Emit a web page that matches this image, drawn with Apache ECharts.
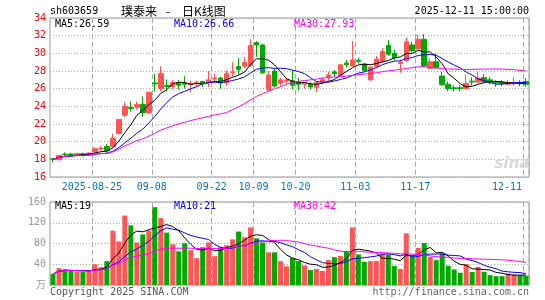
<!DOCTYPE html>
<html><head><meta charset="utf-8">
<script src="https://cdn.jsdelivr.net/npm/echarts/dist/echarts.min.js"></script>
<style>html,body{margin:0;padding:0;background:#fff}#c{width:545px;height:300px}</style>
</head><body><div id="c"></div>
<script>
const dates = ['2025-08-14','2025-08-15','2025-08-18','2025-08-19','2025-08-20','2025-08-21','2025-08-22','2025-08-25','2025-08-26','2025-08-27','2025-08-28','2025-08-29','2025-09-01','2025-09-02','2025-09-03','2025-09-04','2025-09-05','2025-09-08','2025-09-09','2025-09-10','2025-09-11','2025-09-12','2025-09-15','2025-09-16','2025-09-17','2025-09-18','2025-09-19','2025-09-22','2025-09-23','2025-09-24','2025-09-25','2025-09-26','2025-09-29','2025-09-30','2025-10-09','2025-10-10','2025-10-13','2025-10-14','2025-10-15','2025-10-16','2025-10-17','2025-10-20','2025-10-21','2025-10-22','2025-10-23','2025-10-24','2025-10-27','2025-10-28','2025-10-29','2025-10-30','2025-10-31','2025-11-03','2025-11-04','2025-11-05','2025-11-06','2025-11-07','2025-11-10','2025-11-11','2025-11-12','2025-11-13','2025-11-14','2025-11-17','2025-11-18','2025-11-19','2025-11-20','2025-11-21','2025-11-24','2025-11-25','2025-11-26','2025-11-27','2025-11-28','2025-12-01','2025-12-02','2025-12-03','2025-12-04','2025-12-05','2025-12-08','2025-12-09','2025-12-10','2025-12-11'];
const opens = [18.05,17.95,18.6,18.6,18.42,18.62,18.5,18.85,19.2,19.45,19.45,20.9,23.0,23.85,23.9,24.2,23.25,26.65,26.0,26.35,26.25,26.6,26.6,26.45,26.6,26.8,26.75,27.1,27.2,26.65,27.8,28.5,28.55,28.6,31.2,30.95,25.85,28.0,26.6,26.85,26.9,26.75,26.5,26.5,26.15,26.8,27.36,27.9,27.5,28.9,28.57,29.2,28.8,27.0,28.5,29.1,30.9,30.0,28.85,29.2,30.95,30.5,31.6,28.3,29.05,27.43,26.5,26.1,26.1,26.0,26.85,26.75,27.25,27.0,26.75,26.7,26.5,26.55,26.65,26.8];
const closes = [18.0,18.45,18.55,18.55,18.65,18.5,18.7,19.2,19.25,18.95,20.4,22.5,24.0,23.75,24.2,23.3,25.6,26.55,27.7,26.25,26.7,26.4,26.5,26.6,26.7,26.55,27.0,27.2,26.65,27.7,27.9,28.2,28.95,30.9,30.95,27.8,27.55,26.3,27.0,27.0,26.4,26.5,26.65,26.2,26.7,27.0,27.55,27.7,28.7,28.7,29.25,29.1,28.05,28.45,29.35,30.2,29.9,29.5,29.0,31.3,30.3,31.6,28.57,29.05,28.4,26.45,25.98,26.0,26.0,26.6,26.75,27.2,26.8,26.7,26.65,26.55,26.7,26.65,26.55,26.5];
const lows = [17.65,17.9,18.25,18.3,18.35,18.3,18.4,18.75,18.95,18.75,19.35,20.85,22.8,23.4,23.6,22.8,23.2,25.7,25.7,25.7,25.95,25.9,26.0,25.6,26.2,26.2,26.2,26.6,26.0,26.3,27.35,27.6,28.3,28.5,29.6,27.7,25.7,26.1,26.3,26.55,25.9,25.8,26.0,25.9,25.6,26.6,26.9,27.3,27.4,28.4,28.55,28.85,27.9,26.9,28.4,28.9,29.7,29.2,27.8,29.0,30.1,30.4,28.5,28.2,28.3,26.3,25.7,25.7,25.7,25.9,26.35,26.7,26.6,26.45,26.2,26.3,26.4,26.35,26.25,26.2];
const highs = [18.15,18.5,18.8,18.75,18.7,18.75,18.8,19.35,19.5,19.75,20.9,22.5,24.45,24.55,24.55,25.1,25.6,27.7,28.55,27.05,27.0,27.0,27.4,26.9,26.9,26.9,28.0,27.7,27.35,28.1,29.0,29.45,29.6,31.6,31.4,31.1,28.0,28.3,27.2,27.2,28.05,27.2,26.75,26.75,26.75,27.2,27.9,28.1,28.8,29.25,31.4,29.5,28.9,28.5,29.7,30.6,31.5,30.4,29.3,31.8,31.3,32.1,32.2,29.4,30.0,27.9,26.8,26.4,26.4,27.6,27.3,27.9,27.65,27.3,26.95,26.95,27.0,27.3,26.95,27.2];
const volumes = [21,32.5,30.6,28.7,24.9,24.9,28,40,34.5,46,104.6,84,134,115,82,97.6,105,150,129,101,78.5,65,80.4,67,51.7,72.7,82.3,55.5,72.7,76.6,88,103,92,111,90,82,63,63,46,36,52,46,37.6,29,31,27,48,53.6,56,65.7,111,59,44.7,46,46.6,60.6,59,37,31,99.5,55.5,71.5,81,54,48,60.6,37,30,23.6,40,25,35,25.5,19,17,17,22,20,19,18];
const labelDates = ['2025-08-25','2025-09-08','2025-09-22','2025-10-09','2025-10-20','2025-11-03','2025-11-17','2025-12-11'];
const labelTexts = ['2025-08-25','09-08','09-22','10-09','10-20','11-03','11-17','12-11'];
const priceLegend = ['MA5:26.59','MA10:26.66','MA30:27.93'];
const volLegend = ['MA5:19','MA10:21','MA30:42'];

const MONO = 'DejaVu Sans Mono';
const CJK = '12px "Noto Sans CJK SC"';
const UP = '#ff5555', DOWN = '#00a800';
function ma(arr, n){
  return arr.map((v,i)=>{const s=Math.max(0,i-n+1);let sum=0;for(let k=s;k<=i;k++)sum+=arr[k];return +(sum/(i-s+1)).toFixed(3);});
}
const kData = dates.map((d,i)=>[opens[i],closes[i],lows[i],highs[i]]);
const volData = volumes.map((v,i)=>({value:v,itemStyle:{color: closes[i]>opens[i]?UP:DOWN}}));
const isLab = (idx)=> labelDates.indexOf(dates[idx])>=0;
const vLine = {show:true, interval:isLab, lineStyle:{color:'#aaa', type:[5,3], width:1}};
const hLine = {show:true, lineStyle:{color:'#aaa', type:[1,2], width:1}};
function line(name, data, color, xi, yi){
  return {name, type:'line', data, xAxisIndex:xi, yAxisIndex:yi, symbol:'none', z:5,
    lineStyle:{color, width:1}, itemStyle:{color}, silent:true};
}
function txt(x,y,text,fill,align,font){
  return {type:'text', x, y, z:100, style:{text, fill, align:align||'left', verticalAlign:'middle', font: font||('10px '+MONO)}};
}
const chart = echarts.init(document.getElementById('c'));
chart.setOption({
  animation:false,
  backgroundColor:'#fff',
  grid:[
    {left:50, right:16, top:18, height:159, show:true, borderColor:'#999', borderWidth:1},
    {left:50, right:16, top:202, height:83, show:true, borderColor:'#999', borderWidth:1}
  ],
  xAxis:[
    {type:'category', gridIndex:0, data:dates, boundaryGap:true,
     axisLine:{show:false}, axisTick:{show:false},
     axisLabel:{interval:isLab, margin:5,
       formatter:(v,idx)=>{const t=labelTexts[labelDates.indexOf(v)]; return idx===dates.length-1?'{e|'+t+'}':'{n|'+t+'}';},
       rich:{n:{padding:[0,6,0,0],color:'#0078c8',fontFamily:MONO,fontSize:10},
             e:{padding:[0,38,0,0],color:'#0078c8',fontFamily:MONO,fontSize:10}}},
     splitLine:vLine},
    {type:'category', gridIndex:1, data:dates, boundaryGap:true,
     axisLine:{show:false}, axisTick:{show:false}, axisLabel:{show:false}, splitLine:vLine}
  ],
  yAxis:[
    {type:'value', gridIndex:0, min:16, max:34, interval:2,
     axisLine:{show:false}, axisTick:{show:false},
     axisLabel:{color:'#ff0000', fontFamily:MONO, fontSize:10, margin:4}, splitLine:hLine},
    {type:'value', gridIndex:1, min:0, max:160, interval:40,
     axisLine:{show:false}, axisTick:{show:false},
     axisLabel:{color:'#999', fontFamily:MONO, fontSize:10, margin:4, formatter:v=>v===0?'':String(v)}, splitLine:hLine}
  ],
  series:[
    {type:'candlestick', data:kData, xAxisIndex:0, yAxisIndex:0, barWidth:5,
     itemStyle:{color:UP, color0:DOWN, borderColor:UP, borderColor0:DOWN, borderWidth:1}},
    line('MA5', ma(closes,5), '#000000', 0, 0),
    line('MA10', ma(closes,10), '#0000ff', 0, 0),
    line('MA30', ma(closes,30), '#ff00ff', 0, 0),
    {type:'bar', data:volData, xAxisIndex:1, yAxisIndex:1, barWidth:5},
    line('VMA5', ma(volumes,5), '#000000', 1, 1),
    line('VMA10', ma(volumes,10), '#0000ff', 1, 1),
    line('VMA30', ma(volumes,30), '#ff00ff', 1, 1)
  ],
  graphic:[
    txt(50,11,'sh603659','#000'),
    txt(121,11,'璞泰来','#000','left',CJK),
    txt(168,11,'-','#000','center',CJK),
    txt(182,11,'日K线图','#000','left',CJK),
    txt(529,11,'2025-12-11 15:00:00','#000','right'),
    txt(55,24,priceLegend[0],'#000'),
    txt(174,24,priceLegend[1],'#0000ff'),
    txt(294,24,priceLegend[2],'#ff00ff'),
    txt(55,206,volLegend[0],'#000'),
    txt(174,206,volLegend[1],'#0000ff'),
    txt(294,206,volLegend[2],'#ff00ff'),
    txt(46,284,'万','#999','right','10px "Noto Sans CJK SC"'),
    txt(50,292,'Copyright 2025 SINA.COM','#555'),
    txt(529,292,'http://finance.sina.com.cn','#666','right'),
    txt(512,164,'sina','#d8d8d8','center','italic bold 15px "DejaVu Sans"')
  ]
});
</script></body></html>
